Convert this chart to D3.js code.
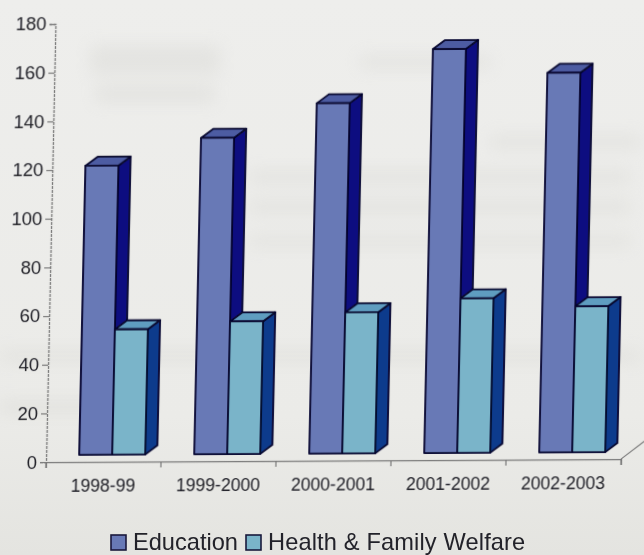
<!DOCTYPE html>
<html><head><meta charset="utf-8">
<script src="https://cdn.jsdelivr.net/npm/d3@7"></script>
<style>
html,body{margin:0;padding:0;background:#e8e8e5;overflow:hidden}
text{font-family:"Liberation Sans",Arial,sans-serif}
</style></head><body>
<svg id="c" width="644" height="555"></svg>
<script>
const categories = ["1998-99","1999-2000","2000-2001","2001-2002","2002-2003"];
const seriesNames = ["Education","Health & Family Welfare"];
const education = [118.8,130,144,166,156];
const health = [51.5,54.5,58,63.5,60];
const yTicks = [0,20,40,60,80,100,120,140,160,180];
const seriesValues = [education, health];
const faces = [
  {front:"#6879b6", top:"#4d5ca2", side:"#0d0d80"},
  {front:"#7ab4c9", top:"#5f9dc0", side:"#0e3b8c"}
];
const depth = {x:12, y:9};
const floorLift = 7;

const svg = d3.select("#c");
const defs = svg.append("defs");
const soft = defs.append("filter").attr("id","soft");
soft.append("feGaussianBlur").attr("stdDeviation",0.55);
const wide = defs.append("filter").attr("id","wide").attr("x","-30%").attr("y","-60%").attr("width","160%").attr("height","220%");
wide.append("feGaussianBlur").attr("stdDeviation",8);
const paper = defs.append("linearGradient").attr("id","paper").attr("x1",0).attr("y1",0).attr("x2",0).attr("y2",1);
paper.append("stop").attr("offset",0).attr("stop-color","#eeeeec");
paper.append("stop").attr("offset",.75).attr("stop-color","#ebebe8");
paper.append("stop").attr("offset",1).attr("stop-color","#e4e4e0");
svg.append("rect").attr("width",644).attr("height",555).attr("fill","url(#paper)");

// faint show-through of the printed page behind
const ghost = svg.append("g").attr("filter","url(#wide)").attr("fill","#cfcfca").attr("opacity",.3);
[[360,55,130,14],[90,45,130,30],[95,85,120,18],[490,135,150,14],[250,170,380,14],[250,200,380,14],[250,235,380,12],[0,350,640,12],[0,400,130,14]]
  .forEach(r=>ghost.append("rect").attr("x",r[0]).attr("y",r[1]).attr("width",r[2]).attr("height",r[3]));

const a = -0.0216, b = -0.0052;
const g = svg.append("g").attr("filter","url(#soft)")
  .attr("transform",`translate(46,462) matrix(1,${b},${a},1,0,0)`);

const x0 = d3.scaleBand().domain(categories).range([0,575]);
const x1 = d3.scaleBand().domain(seriesNames).range([33,99]);
const y = d3.scaleLinear().domain([0,180]).range([0,-438]);

// floor edge
g.append("line").attr("x1",575).attr("y1",0).attr("x2",575+30).attr("y2",-23)
  .attr("stroke","#8a8a88").attr("stroke-width",1.2);

// axes
const yAxis = d3.axisLeft(y).tickValues(yTicks).tickSize(6).tickPadding(3);
const gy = g.append("g").call(yAxis);
const xAxis = d3.axisBottom(x0).tickSize(6).tickPadding(12);
const gx = g.append("g").call(xAxis);
gx.selectAll(".tick line").remove();
gx.selectAll(".tick").each(function(d){
  d3.select(this).append("line").attr("x1",-x0.step()/2).attr("x2",-x0.step()/2).attr("y1",0).attr("y2",6);
});
gx.append("line").attr("x1",575).attr("x2",575).attr("y1",0).attr("y2",6);
g.selectAll(".domain").attr("stroke","#7a7a7a").attr("stroke-width",1.3);
gy.select(".domain").attr("stroke-dasharray","3 1");
g.selectAll(".tick line, g > line").attr("stroke","#7a7a7a").attr("stroke-width",1.2);
gy.selectAll("text").attr("font-size",18.5).attr("fill","#222229").attr("font-family","'Liberation Sans',Arial,sans-serif");
gx.selectAll("text").attr("font-size",17.6).attr("fill","#222229").attr("font-family","'Liberation Sans',Arial,sans-serif");

// bars
const base = -floorLift;
const barStroke = "#07072e";
categories.forEach((cat,ci)=>{
  seriesNames.forEach((name,si)=>{
    const v = seriesValues[si][ci];
    const xl = x0(cat)+x1(name), xr = xl+x1.bandwidth();
    const yt = base+y(v), yb = base;
    const bar = g.append("g").attr("stroke",barStroke).attr("stroke-width",1.8).attr("stroke-linejoin","round");
    bar.append("path").attr("fill",faces[si].side)
      .attr("d",`M${xr},${yt}L${xr+depth.x},${yt-depth.y}L${xr+depth.x},${yb-depth.y}L${xr},${yb}Z`);
    bar.append("path").attr("fill",faces[si].top)
      .attr("d",`M${xl},${yt}L${xl+depth.x},${yt-depth.y}L${xr+depth.x},${yt-depth.y}L${xr},${yt}Z`);
    bar.append("rect").attr("fill",faces[si].front)
      .attr("x",xl).attr("y",yt).attr("width",xr-xl).attr("height",yb-yt);
  });
});

// legend
const legend = svg.append("g").attr("filter","url(#soft)");
const legendX = [[111,133],[246,268]];
seriesNames.forEach((name,i)=>{
  legend.append("rect").attr("x",legendX[i][0]).attr("y",535).attr("width",15).attr("height",15)
    .attr("fill",faces[i].front).attr("stroke","#1a1a3c").attr("stroke-width",1.6);
  legend.append("text").attr("x",legendX[i][1]).attr("y",550).attr("font-size",23.6).attr("letter-spacing",i?0.15:0).attr("fill","#222229").text(name);
});
</script>
</body></html>
